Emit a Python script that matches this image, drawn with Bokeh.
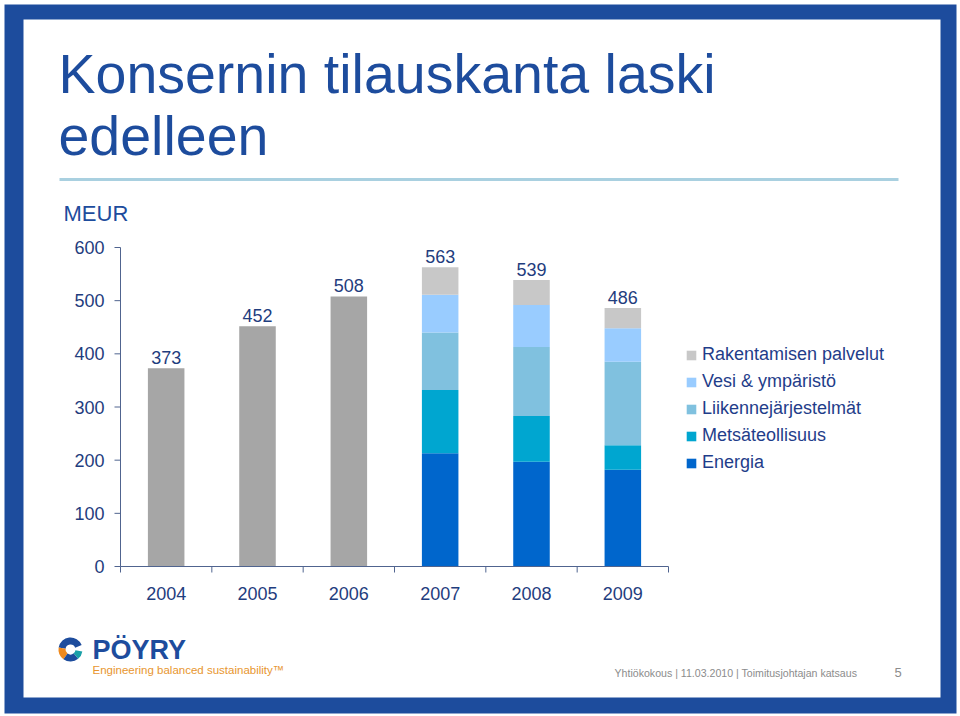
from math import pi
from bokeh.plotting import figure
from bokeh.models import Range1d, Legend, LegendItem, ColumnDataSource
from bokeh.core.properties import value
from bokeh.embed import file_html
from bokeh.resources import INLINE

# ---------------- data ----------------
years = ["2004", "2005", "2006", "2007", "2008", "2009"]
totals = [373, 452, 508, 563, 539, 486]
seg_years = ["2007", "2008", "2009"]
energia = [213, 197, 182]
metsateollisuus = [119, 86, 46]
liikenne = [108, 130, 157]
vesi = [71, 79, 63]
rakentamisen = [52, 47, 38]
series_names = ["Energia", "Metsäteollisuus", "Liikennejärjestelmät",
                "Vesi & ympäristö", "Rakentamisen palvelut"]
y_ticks = [0, 100, 200, 300, 400, 500, 600]

# ---------------- styles ----------------
FONT = value("Liberation Sans")
BLUE = "#1d4c9d"
TXT = "#1f3d7e"
AXC = "#50648f"
GRAY_BAR = "#a6a6a6"
seg_colors = ["#0066cc", "#00a6d0", "#80c1df", "#99ccff", "#c8c8c8"]

W, H = 960, 716
p = figure(width=W, height=H, x_range=Range1d(0, W), y_range=Range1d(H, 0),
           min_border=0, toolbar_location=None, output_backend="svg",
           x_axis_type=None, y_axis_type=None,
           background_fill_color="white", border_fill_color="white",
           outline_line_color=None)
p.grid.visible = False

# chart scales (category index / value) mapped onto the canvas
X0_PX, X6_PX = 120, 668
Y0_PX, Y600_PX = 566, 247
PXC = (X6_PX - X0_PX) / 6.0
PXV = (Y0_PX - Y600_PX) / 600.0
p.extra_x_ranges = {"cat": Range1d(-X0_PX / PXC, (W - X0_PX) / PXC)}
p.extra_y_ranges = {"val": Range1d(-(H - Y0_PX) / PXV, Y0_PX / PXV)}
CR = dict(x_range_name="cat", y_range_name="val")

# ---------------- slide frame ----------------
p.quad(left=[4], right=[956], top=[4], bottom=[713], fill_color=BLUE, line_color=None)
p.quad(left=[23], right=[940], top=[19], bottom=[697], fill_color="white", line_color=None)

# title
p.text(x=[58, 58], y=[73, 135], text=["Konsernin tilauskanta laski", "edelleen"],
       text_font=FONT, text_font_size="55.5px", text_color=BLUE,
       text_baseline="middle", text_align="left")
p.segment(x0=[59], y0=[179], x1=[898], y1=[179], line_color="#a9d0e0", line_width=3)

p.text(x=[63], y=[213], text=["MEUR"], text_font=FONT, text_font_size="22px",
       text_color=BLUE, text_baseline="middle")

# ---------------- bars ----------------
gray_src = ColumnDataSource(dict(
    x=[years.index(y) + 0.5 for y in years[:3]], top=totals[:3]))
p.vbar(x="x", top="top", bottom=0, width=0.4, source=gray_src,
       fill_color=GRAY_BAR, line_color=None, **CR)

stack_src = ColumnDataSource(dict(
    x=[years.index(y) + 0.5 for y in seg_years],
    **{series_names[0]: energia, series_names[1]: metsateollisuus,
       series_names[2]: liikenne, series_names[3]: vesi,
       series_names[4]: rakentamisen}))
rends = p.vbar_stack(series_names, x="x", width=0.4, source=stack_src,
                     fill_color=seg_colors, line_color=None, **CR)

# value labels
p.text(x=[i + 0.5 for i in range(len(years))], y=totals,
       text=[str(t) for t in totals], y_offset=-4,
       text_font=FONT, text_font_size="18px", text_color=TXT,
       text_align="center", text_baseline="bottom", **CR)

# ---------------- axes ----------------
p.segment(x0=[0], y0=[0], x1=[0], y1=[600], line_color=AXC, line_width=1, **CR)
p.segment(x0=[0] * len(y_ticks), y0=y_ticks, x1=[-6 / PXC] * len(y_ticks), y1=y_ticks,
          line_color=AXC, line_width=1, **CR)
p.text(x=[-16 / PXC] * len(y_ticks), y=y_ticks, text=[str(t) for t in y_ticks],
       text_font=FONT, text_font_size="18px", text_color=TXT,
       text_align="right", text_baseline="middle", **CR)

p.segment(x0=[0], y0=[0], x1=[len(years)], y1=[0], line_color=AXC, line_width=1, **CR)
bx = list(range(len(years) + 1))
p.segment(x0=bx, y0=[0] * len(bx), x1=bx, y1=[-6 / PXV] * len(bx),
          line_color=AXC, line_width=1, **CR)
p.text(x=[i + 0.5 for i in range(len(years))], y=[-27 / PXV] * len(years), text=years,
       text_font=FONT, text_font_size="18px", text_color=TXT,
       text_align="center", text_baseline="middle", **CR)

# ---------------- legend ----------------
items = [LegendItem(label=n, renderers=[r]) for n, r in zip(series_names, rends)][::-1]
legend = Legend(items=items, location=(685, 243), orientation="vertical",
                padding=0, margin=0, spacing=6, glyph_width=12, glyph_height=12,
                label_height=20, label_standoff=5,
                label_text_font="Liberation Sans", label_text_font_size="18px",
                label_text_color="#1f3d8a", border_line_color=None,
                background_fill_alpha=0)
p.add_layout(legend)

# ---------------- logo & footer ----------------
p.annular_wedge(x=[70, 70, 70, 70], y=[649] * 4, inner_radius=5, outer_radius=12,
                start_angle=[0.12 * pi, 0.95 * pi, 1.3 * pi, 1.72 * pi],
                end_angle=[0.95 * pi, 1.3 * pi, 1.72 * pi, 1.95 * pi],
                fill_color=[BLUE, "#ef8a1e", BLUE, "#1aa0a8"], line_color=None)
p.text(x=[92], y=[649], text=["PÖYRY"], text_font=FONT, text_font_size="27px",
       text_font_style="bold", text_color=BLUE, text_baseline="middle")
p.text(x=[92], y=[669], text=["Engineering balanced sustainability™"],
       text_font=FONT, text_font_size="11.5px",
       text_color="#e8962f", text_baseline="middle")

p.text(x=[614], y=[672], text=["Yhtiökokous | 11.03.2010 | Toimitusjohtajan katsaus"],
       text_font=FONT, text_font_size="10.6px", text_color="#8c8c8c",
       text_baseline="middle")
p.text(x=[894], y=[672], text=["5"], text_font=FONT, text_font_size="13px",
       text_color="#8c8c8c", text_baseline="middle")

open("out.html", "w").write(file_html(p, INLINE))
